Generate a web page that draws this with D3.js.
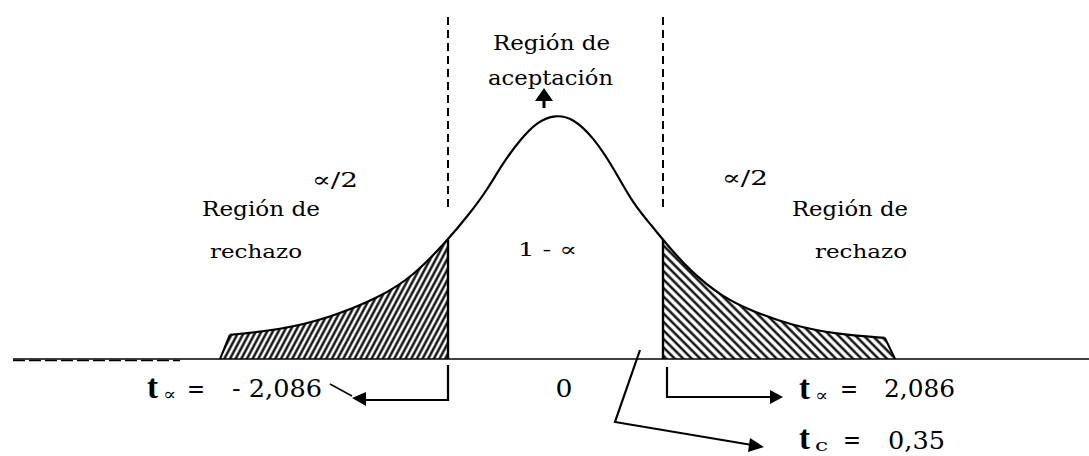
<!DOCTYPE html>
<html>
<head>
<meta charset="utf-8">
<script src="https://cdn.jsdelivr.net/npm/d3@7"></script>
<style>
  body { margin: 0; background: #fff; }
  svg { display: block; }
  text { font-family: "DejaVu Serif", "Liberation Serif", serif; fill: #000; }
</style>
</head>
<body>
<svg id="chart"></svg>
<script>
var width = 1089;
var height = 456;

// critical value and test statistic
var tCrit = 2.086;
var tCalc = 0.35;

// curve as drawn in the picture (t value, relative height)
var curveT = [-6.51, -6.32, -5.35, -4.38, -3.41, -2.77, -2.086, -1.66, -1.33, -1.02, -0.69, -0.36, 0,
              0.34, 0.73, 1.12, 1.50, 1.89, 2.086, 2.61, 3.25, 3.77, 4.55, 5.52, 6.39, 6.59];
var curveY = [0, 0.040, 0.048, 0.068, 0.102, 0.136, 0.197, 0.241, 0.279, 0.324, 0.362, 0.392, 0.404,
              0.398, 0.367, 0.317, 0.257, 0.218, 0.197, 0.145, 0.102, 0.081, 0.056, 0.040, 0.035, 0];

var topLabel = ["Región de", "aceptación"];
var sideLabel = ["Región de", "rechazo"];
var tailLabel = "∝/2";
var centreLabel = "1 - ∝";
var leftValue = "- 2,086";
var rightValue = "2,086";
var zeroLabel = "0";
var calcValue = "0,35";

var pts = curveT.map(function (t, i) { return { t: t, y: curveY[i] }; });

var x = d3.scaleLinear().domain([-tCrit, tCrit]).range([448, 663]);
var y = d3.scaleLinear().domain([0, 0.4]).range([359, 117]);

var svg = d3.select("#chart").attr("width", width).attr("height", height);

// hatch patterns
var defs = svg.append("defs");
defs.append("pattern")
    .attr("id", "hatchL")
    .attr("patternUnits", "userSpaceOnUse")
    .attr("width", 5).attr("height", 10)
    .attr("patternTransform", "rotate(28)")
    .append("line")
    .attr("x1", 1.5).attr("y1", 0).attr("x2", 1.5).attr("y2", 10)
    .attr("stroke", "#000").attr("stroke-width", 2.3);
defs.append("pattern")
    .attr("id", "hatchR")
    .attr("patternUnits", "userSpaceOnUse")
    .attr("width", 6).attr("height", 10)
    .attr("patternTransform", "rotate(-45)")
    .append("line")
    .attr("x1", 1.5).attr("y1", 0).attr("x2", 1.5).attr("y2", 10)
    .attr("stroke", "#000").attr("stroke-width", 2.3);

var smooth = d3.curveBasis;

var area = d3.area()
    .x(function (d) { return x(d.t); })
    .y0(y(0))
    .y1(function (d) { return y(d.y); })
    .curve(smooth);

// tails: split the smoothed curve at the critical values
var line = d3.line()
    .x(function (d) { return x(d.t); })
    .y(function (d) { return y(d.y); })
    .curve(smooth);

var curvePath = svg.append("path").datum(pts.slice(1, pts.length - 1))
    .attr("d", line)
    .attr("fill", "none").attr("stroke", "#000").attr("stroke-width", 2.2);

// sample the drawn curve so the hatched tails follow it exactly
var node = curvePath.node();
var total = node.getTotalLength();
var samples = [];
for (var s = 0; s <= total; s += 1) {
    var p = node.getPointAtLength(s);
    samples.push({ px: p.x, py: p.y });
}
function yAt(px) {
    var best = samples[0];
    samples.forEach(function (q) { if (Math.abs(q.px - px) < Math.abs(best.px - px)) best = q; });
    return best.py;
}

function tailPath(fromPx, toPx, startBase, endBase) {
    var seg = samples.filter(function (q) { return q.px >= fromPx && q.px <= toPx; });
    var d = "M" + startBase + "," + y(0);
    seg.forEach(function (q) { d += "L" + q.px + "," + q.py; });
    d += "L" + endBase + "," + y(0) + "Z";
    return d;
}

var leftEdge = x(pts[1].t), rightEdge = x(pts[pts.length - 2].t);
svg.insert("path", ":first-child")
    .attr("d", tailPath(leftEdge, x(-tCrit), x(pts[0].t), x(-tCrit)))
    .attr("fill", "url(#hatchL)");
svg.insert("path", ":first-child")
    .attr("d", tailPath(x(tCrit), rightEdge, x(tCrit), x(pts[pts.length - 1].t)))
    .attr("fill", "url(#hatchR)");
svg.select("defs").lower();

// baseline
svg.append("line")
    .attr("x1", 13).attr("x2", width).attr("y1", y(0)).attr("y2", y(0))
    .attr("stroke", "#000").attr("stroke-width", 1.6);
svg.append("line")
    .attr("x1", 13).attr("x2", 180).attr("y1", y(0) + 1.5).attr("y2", y(0) + 1.5)
    .attr("stroke", "#000").attr("stroke-width", 1.6)
    .attr("stroke-dasharray", "12,4");

// tail edges
svg.append("line")
    .attr("x1", x(pts[0].t)).attr("y1", y(0)).attr("x2", leftEdge).attr("y2", yAt(leftEdge))
    .attr("stroke", "#000").attr("stroke-width", 2);
svg.append("line")
    .attr("x1", x(pts[pts.length - 1].t)).attr("y1", y(0)).attr("x2", rightEdge).attr("y2", yAt(rightEdge))
    .attr("stroke", "#000").attr("stroke-width", 2);

// vertical lines at critical values
[-tCrit, tCrit].forEach(function (t) {
    svg.append("line")
        .attr("x1", x(t)).attr("x2", x(t))
        .attr("y1", yAt(x(t))).attr("y2", y(0))
        .attr("stroke", "#000").attr("stroke-width", 2.4);
    svg.append("line")
        .attr("x1", x(t)).attr("x2", x(t))
        .attr("y1", 17).attr("y2", 207)
        .attr("stroke", "#000").attr("stroke-width", 2)
        .attr("stroke-dasharray", "8,5");
});

function label(txt, x0, yb, w, size) {
    var t = svg.append("text")
        .attr("x", x0).attr("y", yb)
        .style("font-size", size + "px")
        .text(txt);
    if (w) t.attr("textLength", w).attr("lengthAdjust", "spacingAndGlyphs");
    return t;
}

// top label and arrow
label(topLabel[0], 493, 50, 117, 20);
label(topLabel[1], 488, 85, 125, 20);
svg.append("path")
    .attr("d", "M544,88 L535,101 L553,101 Z M542.5,101 L545.5,101 L545.5,108 L542.5,108 Z")
    .attr("fill", "#000");

// side labels
label(tailLabel, 312, 187, 46, 21);
label(sideLabel[0], 202, 216, 118, 20);
label(sideLabel[1], 210, 258, 92, 18);
label(tailLabel, 722, 185, 46, 21);
label(sideLabel[0], 792, 216, 116, 20);
label(sideLabel[1], 815, 258, 92, 18);
label(centreLabel, 518, 256, 59, 19);

// bottom: t labels
function tLabel(x0, yb, sub) {
    label("t", x0, yb, 11, 34)
        .style("font-family", "'Liberation Serif', serif")
        .style("font-weight", "bold");
    label(sub, x0 + 16, yb + 2, 13, 17);
}
tLabel(147, 398, "∝");
label("=", 187, 398, 18, 26);
label(leftValue, 232, 397, 90, 25);

// left bracket arrow
svg.append("path")
    .attr("d", "M" + x(-tCrit) + ",365 V400 H362")
    .attr("fill", "none").attr("stroke", "#000").attr("stroke-width", 2.2);
svg.append("path")
    .attr("d", "M330,384 L352,396")
    .attr("fill", "none").attr("stroke", "#000").attr("stroke-width", 1.5);
svg.append("path").attr("d", "M352,398 L366,392 L366,406 Z").attr("fill", "#000");

// zero
label(zeroLabel, x(0), 397, 17, 24);

// right bracket arrow
svg.append("path")
    .attr("d", "M" + (x(tCrit) + 4) + ",367 V397 H772")
    .attr("fill", "none").attr("stroke", "#000").attr("stroke-width", 2.2);
svg.append("path").attr("d", "M783,397 L770,390 L770,404 Z").attr("fill", "#000");

tLabel(799, 399, "∝");
label("=", 840, 398, 18, 26);
label(rightValue, 884, 397, 71, 25);

// calculated t arrow
svg.append("path")
    .attr("d", "M640,350 L615,422 L752,445")
    .attr("fill", "none").attr("stroke", "#000").attr("stroke-width", 2.2);
svg.append("path").attr("d", "M764,447 L750,438 L748,452 Z").attr("fill", "#000");

tLabel(799, 449, "c");
label("=", 843, 449, 18, 26);
label(calcValue, 888, 449, 57, 25);
</script>
</body>
</html>
